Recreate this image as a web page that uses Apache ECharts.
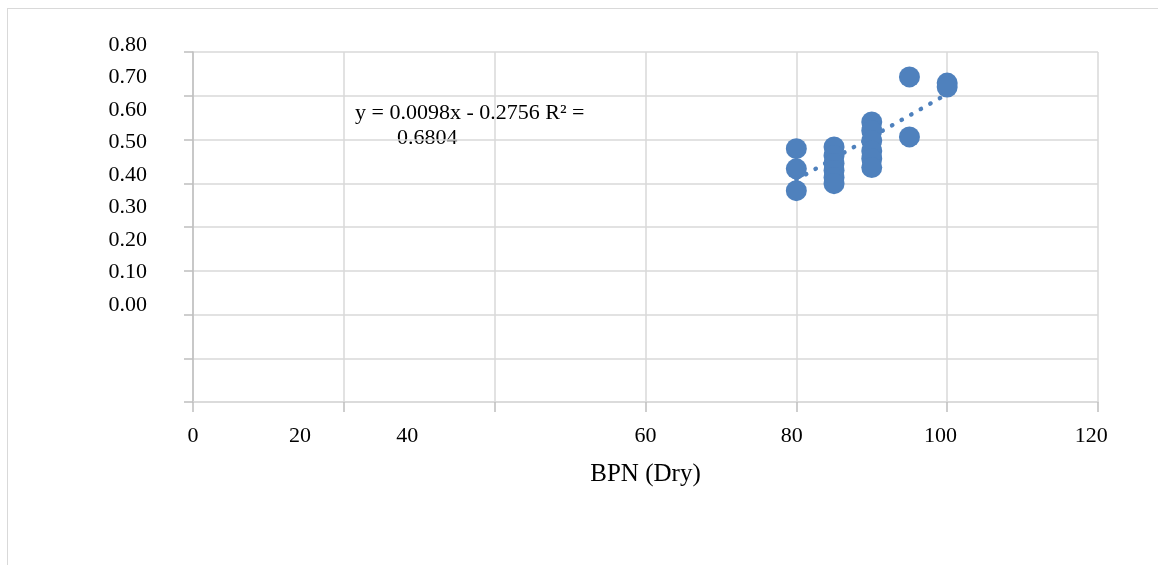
<!DOCTYPE html>
<html>
<head>
<meta charset="utf-8">
<script src="https://cdn.jsdelivr.net/npm/echarts@6/dist/echarts.min.js"></script>
<style>
    html, body { margin: 0; padding: 0; background: #fff; }
    #wrap { position: relative; width: 1158px; height: 565px; overflow: hidden; }
    #frame { position: absolute; left: 7px; top: 8px; width: 1200px; height: 600px; border: 1px solid #d9d9d9; box-sizing: border-box; }
    #chart { position: absolute; left: 0; top: 0; width: 1158px; height: 565px; }
</style>
</head>
<body>
<div id="wrap">
    <div id="frame"></div>
    <div id="chart"></div>
</div>
<script>

    const bpn  = [80, 80, 80, 85, 85, 85, 85, 85, 85, 90, 90, 90, 90, 90, 90, 95, 95, 100, 100];
    const vals = [0.579, 0.533, 0.483, 0.583, 0.563, 0.545, 0.529, 0.513, 0.499,
                  0.640, 0.620, 0.597, 0.574, 0.556, 0.536, 0.743, 0.606, 0.729, 0.720];

    // linear trendline ends
    const trendX = [80, 100];
    const trendY = [0.508, 0.704];

    const xTickLabels = ['0', '20', '40', '60', '80', '100', '120'];
    const yTickLabels = ['0.00', '0.10', '0.20', '0.30', '0.40', '0.50', '0.60', '0.70', '0.80'];
    const equation = ['y = 0.0098x - 0.2756 R² =', '0.6804'];

    // where the x labels sit along the axis (they drift off the gridlines in the original)
    const xLabelAt = [0, 14.2, 28.4, 60, 79.4, 99.1, 119.1];

    const FONT = 'Liberation Serif';
    const BLUE = '#4f81bd';

    const chart = echarts.init(document.querySelector('#chart'), null, { renderer: 'canvas' });

    const option = {
        animation: false,
        grid: [
            { left: 193, top: 52, width: 905, height: 350 },
            // label-only grid for the y tick labels
            { left: 193, top: 45, width: 905, height: 260 },
        ],
        xAxis: [
            {
                type: 'value',
                gridIndex: 0,
                min: 0,
                max: 120,
                interval: 20,
                name: 'BPN (Dry)',
                nameLocation: 'middle',
                nameGap: 60,
                nameTextStyle: { fontFamily: FONT, fontSize: 25, color: '#000' },
                axisLine: { show: true, onZero: false, lineStyle: { color: '#d9d9d9', width: 1.5 } },
                axisTick: { show: true, length: 10, lineStyle: { color: '#bfbfbf', width: 1.5 } },
                splitLine: { show: true, lineStyle: { color: '#d9d9d9', width: 1.5 } },
                axisLabel: {
                    customValues: xLabelAt,
                    formatter: v => xTickLabels[xLabelAt.indexOf(v)],
                    margin: 23,
                    fontFamily: FONT,
                    fontSize: 22,
                    color: '#000',
                },
            },
            { type: 'value', gridIndex: 1, show: false, min: 0, max: 1 },
        ],
        yAxis: [
            {
                type: 'value',
                gridIndex: 0,
                min: 0,
                max: 0.8,
                interval: 0.1,
                axisLine: { show: true, lineStyle: { color: '#bfbfbf', width: 1.5 } },
                axisTick: { show: true, inside: false, length: 9, lineStyle: { color: '#bfbfbf', width: 1.5 } },
                splitLine: { show: true, lineStyle: { color: '#d9d9d9', width: 1.5 } },
                axisLabel: { show: false },
            },
            {
                type: 'category',
                gridIndex: 1,
                data: yTickLabels,
                boundaryGap: false,
                axisLine: { show: false },
                axisTick: { show: false },
                splitLine: { show: false },
                axisLabel: { margin: 46, fontFamily: FONT, fontSize: 22, color: '#000' },
            },
        ],
        graphic: [
            {
                type: 'text', x: 355, y: 113, silent: true,
                style: { text: equation[0], fill: '#000', font: `22px "${FONT}"`, align: 'left', verticalAlign: 'middle' },
            },
            {
                type: 'text', x: 397, y: 138, silent: true,
                style: { text: equation[1], fill: '#000', font: `22px "${FONT}"`, align: 'left', verticalAlign: 'middle' },
            },
        ],
        series: [
            {
                type: 'line',
                xAxisIndex: 0,
                yAxisIndex: 0,
                data: trendX.map((x, i) => [x, trendY[i]]),
                symbol: 'none',
                z: 1,
                lineStyle: { color: BLUE, width: 4.3, type: [0.5, 10.5], cap: 'round' },
            },
            {
                type: 'scatter',
                xAxisIndex: 0,
                yAxisIndex: 0,
                data: bpn.map((x, i) => [x, vals[i]]),
                symbol: 'circle',
                symbolSize: 21,
                z: 2,
                itemStyle: { color: BLUE, opacity: 1 },
            },
        ],
    };

    option && chart.setOption(option);

</script>
</body>
</html>
